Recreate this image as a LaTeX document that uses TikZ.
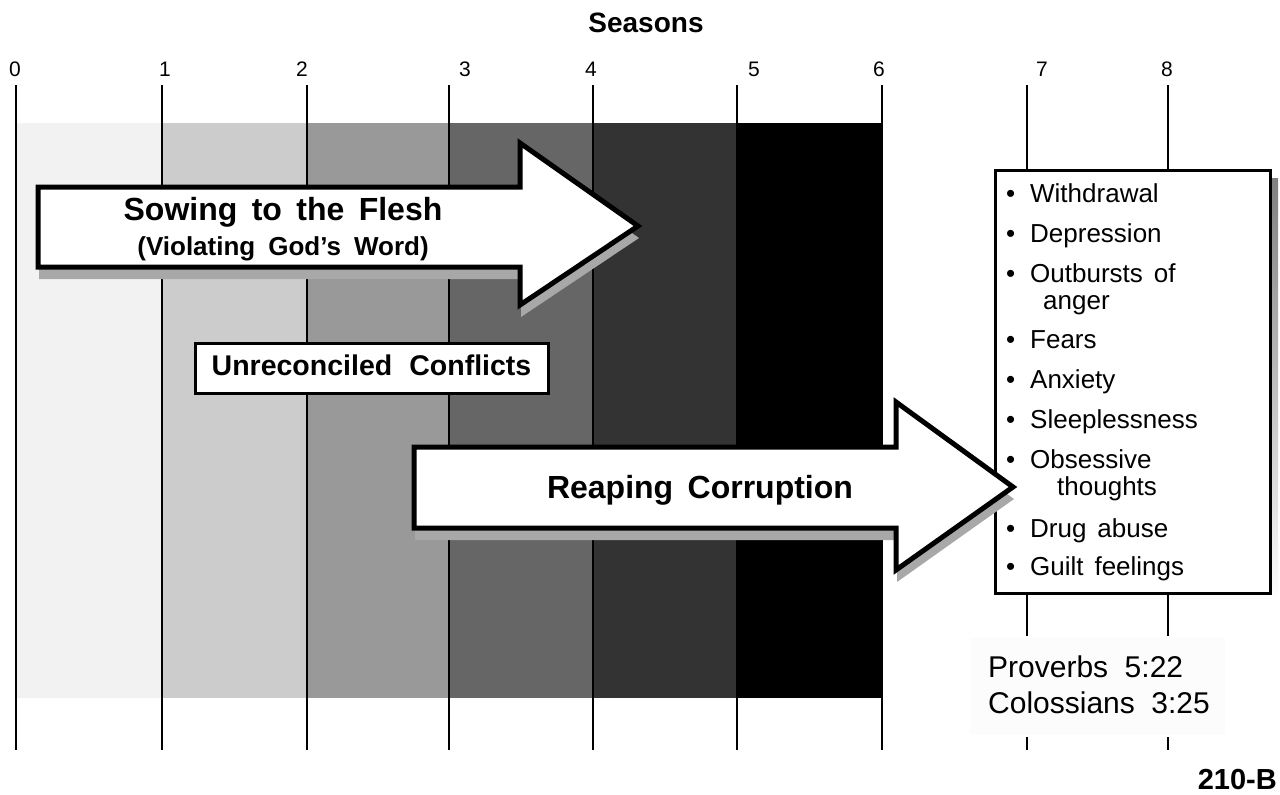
\documentclass[tikz,border=0pt]{standalone}
\usepackage{fontspec}
\setmainfont{Liberation Sans}
\usetikzlibrary{positioning}
\definecolor{season0}{gray}{0.95}
\definecolor{season1}{gray}{0.80}
\definecolor{season2}{gray}{0.60}
\definecolor{season3}{gray}{0.40}
\definecolor{season4}{gray}{0.20}
\definecolor{season5}{gray}{0.00}
\definecolor{shade}{gray}{0.66}
\newcommand\wordgap[1]{\spaceskip #1\relax}

\begin{document}
\begin{tikzpicture} [%
    x = 1pt,
    y = -1pt,
    every node/.style = {inner sep = 0pt},
    divider/.style = {line width = 2.5pt},
    seasonno/.style = {font = \fontsize{21}{25}\selectfont},
    bigarrow/.style = {draw, line width = 5pt, fill = white},
    arrowshade/.style = {fill = shade},
    arrowtext/.style = {%
      anchor = base,
      font = \bfseries\fontsize{32}{38}\selectfont\wordgap{0.45em} },
    effect/.style = {%
      anchor = base west,
      font = \fontsize{26}{30}\selectfont\wordgap{0.42em} },
    verse/.style = {%
      anchor = base west,
      font = \fontsize{30}{36}\selectfont\wordgap{0.55em} }
  ]

  \useasboundingbox (0,0) rectangle (1280,795);

  % the six seasons
  \foreach \xa/\xb/\c in {16/162/season0, 162/307/season1, 307/449/season2,
      449/593/season3, 593/737/season4, 737/882/season5}
    \fill[\c] (\xa,123) rectangle (\xb,698);

  \fill[shade] (1003,178) rectangle (1278,601);
  \fill[gray!2] (970,638) rectangle (1225,735);

  \foreach \x in {16,162,307,449,593,737,882}
    \draw[divider] (\x,85) -- (\x,750);
  \foreach \x in {1027,1168} {
    \draw[divider] (\x,85) -- (\x,636);
    \draw[divider] (\x,737) -- (\x,750);
  }

  \foreach \x/\n in {15/0, 165/1, 302/2, 465/3, 591/4, 754/5, 879/6, 1042/7, 1167/8}
    \node[seasonno] (no\n) at (\x,69) {\n};

  \node[anchor = base, font = \bfseries\fontsize{28}{32}\selectfont] (seasons)
    at (646,32) {Seasons};

  % list of fruits
  \node[draw, line width = 3pt, fill = white, minimum width = 275pt,
    minimum height = 423pt] (effectbox) at (1132.5,381.5) {};

  \node[draw, line width = 3pt, fill = white, minimum width = 353pt,
    minimum height = 50pt, text height = 21pt, text depth = 7pt,
    font = \bfseries\fontsize{28.5}{34}\selectfont\wordgap{0.6em}]
    (conflicts) at (371.5,368) {Unreconciled Conflicts};

  % sowing
  \path[arrowshade, shift = {(1,12)}] (38,187) -- (520,187) -- (520,143)
    -- (638,226) -- (520,305) -- (520,267) -- (38,267) -- cycle;
  \path[bigarrow] (38,187) -- (520,187) -- (520,143)
    -- (638,226) -- (520,305) -- (520,267) -- (38,267) -- cycle;

  % reaping
  \path[arrowshade, shift = {(1,12)}] (414,447) -- (896,447) -- (896,402)
    -- (1013,487) -- (896,570) -- (896,528) -- (414,528) -- cycle;
  \path[bigarrow] (414,447) -- (896,447) -- (896,402)
    -- (1013,487) -- (896,570) -- (896,528) -- (414,528) -- cycle;

  \node[arrowtext] (sow) at (283,220) {Sowing to the Flesh};
  \node[below = 35pt of sow.base, anchor = base,
    font = \bfseries\fontsize{26}{30}\selectfont\wordgap{0.5em}]
    (violate) {(Violating God's Word)};
  \node[arrowtext] (reap) at (700,498) {Reaping Corruption};

  \foreach \yy/\txt [count=\k] in {202/Withdrawal, 242/Depression,
      282/Outbursts of, 348/Fears, 388/Anxiety, 428/Sleeplessness,
      468/Obsessive, 537/Drug abuse, 575/Guilt feelings}
    \node[effect] (effect\k) at (1006,\yy) {\makebox[24pt][l]{•}\txt};
  \node[effect] (anger) at (1043,309) {anger};
  \node[effect] (thoughts) at (1057,495) {thoughts};

  \node[verse] (prov) at (988,677) {Proverbs 5:22};
  \node[below = 36pt of prov.base west, verse] (col) {Colossians 3:25};

  \node[anchor = base east, font = \bfseries\fontsize{29}{34}\selectfont]
    (chart) at (1277,789) {210-B};

\end{tikzpicture}
\end{document}
